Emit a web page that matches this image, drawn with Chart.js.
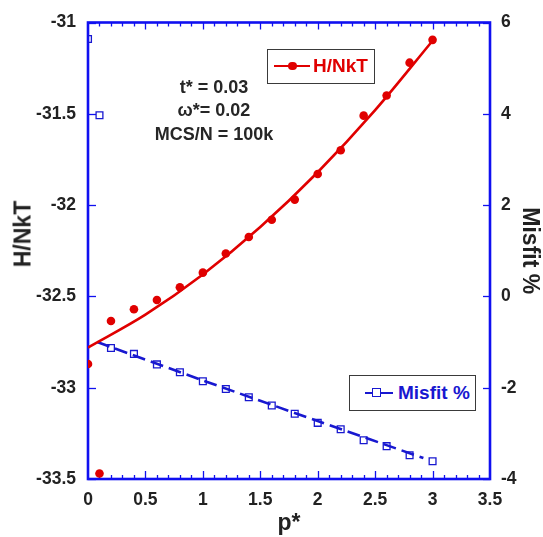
<!DOCTYPE html>
<html><head><meta charset="utf-8">
<script src="https://cdn.jsdelivr.net/npm/chart.js@4/dist/chart.umd.min.js"></script>
<style>
html,body{margin:0;padding:0;background:#fff;}
#wrap{position:relative;width:543px;height:537px;overflow:hidden;}
#c{position:absolute;left:0;top:0;}
.ann{position:absolute;font-family:"Liberation Sans",Arial,sans-serif;font-weight:bold;color:#262626;font-size:18px;white-space:nowrap;transform:translate(-50%,-50%);}
.leg{position:absolute;border:1.5px solid #3a3a3a;background:#fff;box-sizing:border-box;}
.legtxt{position:absolute;font-family:"Liberation Sans",Arial,sans-serif;font-weight:bold;font-size:19px;white-space:nowrap;transform:translateY(-50%);}
.legline{position:absolute;}
#ytitle{position:absolute;left:23px;top:234px;font-family:"Liberation Sans",Arial,sans-serif;font-weight:bold;font-size:23px;color:#222;white-space:nowrap;transform:translate(-50%,-50%) rotate(-90deg);}
</style></head>
<body>
<div id="wrap">
<canvas id="c" width="543" height="537"></canvas>
<div id="ytitle">H/NkT</div>
<div class="ann" style="left:214px;top:87px;">t* = 0.03</div>
<div class="ann" style="left:214px;top:110px;">ω*= 0.02</div>
<div class="ann" style="left:214px;top:134px;">MCS/N = 100k</div>

<div class="leg" style="left:267px;top:49px;width:108px;height:35px;"></div>
<div class="legline" style="left:274px;top:64.5px;width:36px;height:2.5px;background:#e00000;"></div>
<div class="legline" style="left:288px;top:61.5px;width:8.5px;height:8.5px;border-radius:50%;background:#e00000;"></div>
<div class="legtxt" style="left:313px;top:66px;color:#e00000;">H/NkT</div>

<div class="leg" style="left:349px;top:375px;width:127px;height:36px;"></div>
<div class="legline" style="left:365px;top:392px;width:28px;height:2px;background:#1818d0;"></div>
<div class="legline" style="left:372px;top:388px;width:7px;height:7px;border:1.5px solid #1818d0;background:#fff;box-sizing:content-box;"></div>
<div class="legtxt" style="left:398px;top:393px;color:#1818d0;">Misfit %</div>
</div>
<script>
// ---- data ----
const pStar = [0, 0.1, 0.2, 0.4, 0.6, 0.8, 1.0, 1.2, 1.4, 1.6, 1.8, 2.0, 2.2, 2.4, 2.6, 2.8, 3.0];
const hNkT = [-32.87, -33.47, -32.635, -32.57, -32.52, -32.45, -32.37, -32.265, -32.175, -32.08, -31.97, -31.83, -31.70, -31.51, -31.40, -31.22, -31.095];
const misfit = [5.64, 3.97, -1.13, -1.26, -1.49, -1.66, -1.86, -2.03, -2.21, -2.39, -2.57, -2.77, -2.91, -3.15, -3.28, -3.48, -3.61];
// fitted curves
const hFitX = [0, 0.5, 1.0, 1.5, 2.0, 2.5, 3.0];
const hFitY = [-32.78, -32.60, -32.38, -32.12, -31.82, -31.48, -31.10];
const mFitX = [0.08, 1.0, 2.0, 2.92];
const mFitY = [-1.0, -1.84, -2.73, -3.54];
// axis ticks
const xTicks = {min: 0, max: 3.5, step: 0.5, minor: 0.1};
const yLeftTicks = {min: -33.5, max: -31, step: 0.5};
const yRightTicks = {min: -4, max: 6, step: 2};

const RED = '#e00000', BLUE = '#1818d0', FRAME = '#1010f0', TXT = '#222222';
const FONT = '"Liberation Sans", Arial, sans-serif';

const pts = (xs, ys) => xs.map((x, i) => ({x: x, y: ys[i]}));
const fmt = v => String(Number(Number(v).toFixed(2)));

const frameTicks = {
  id: 'frameTicks',
  beforeDatasetsDraw(chart) {
    const ctx = chart.ctx, a = chart.chartArea;
    const sx = chart.scales.x, yl = chart.scales.yL, yr = chart.scales.yR;
    ctx.save();
    ctx.strokeStyle = FRAME;
    ctx.lineWidth = 1.3;
    const nMinor = Math.round((xTicks.max - xTicks.min) / xTicks.minor);
    const per = Math.round(xTicks.step / xTicks.minor);
    for (let i = 1; i < nMinor; i++) {
      const v = xTicks.min + i * xTicks.minor;
      const px = Math.round(sx.getPixelForValue(v)) + 0.5;
      const big = i % per === 0;
      ctx.beginPath();
      ctx.moveTo(px, a.bottom); ctx.lineTo(px, a.bottom - (big ? 8 : 4));
      ctx.moveTo(px, a.top); ctx.lineTo(px, a.top + (big ? 7 : 4));
      ctx.stroke();
    }
    yl.ticks.forEach(t => {
      const py = Math.round(yl.getPixelForValue(t.value)) + 0.5;
      ctx.beginPath(); ctx.moveTo(a.left, py); ctx.lineTo(a.left + 8, py); ctx.stroke();
    });
    yr.ticks.forEach(t => {
      const py = Math.round(yr.getPixelForValue(t.value)) + 0.5;
      ctx.beginPath(); ctx.moveTo(a.right, py); ctx.lineTo(a.right - 7, py); ctx.stroke();
    });
    ctx.lineWidth = 2.6;
    ctx.strokeRect(a.left, a.top, a.right - a.left, a.bottom - a.top);
    ctx.restore();
  }
};

const tickFont = {family: FONT, size: 17.5, weight: 'bold'};
const titleFont = {family: FONT, size: 23, weight: 'bold'};

new Chart(document.getElementById('c'), {
  type: 'scatter',
  data: {
    datasets: [
      {label: 'H fit', data: pts(hFitX, hFitY), yAxisID: 'yL', showLine: true,
       borderColor: RED, borderWidth: 2.6, pointRadius: 0, cubicInterpolationMode: 'monotone', order: 3},
      {label: 'Misfit fit', data: pts(mFitX, mFitY), yAxisID: 'yR', showLine: true,
       borderColor: BLUE, borderWidth: 2.6, borderDash: [13, 6], pointRadius: 0, tension: 0.3, order: 4},
      {label: 'H/NkT', data: pts(pStar, hNkT), yAxisID: 'yL', showLine: false,
       pointStyle: 'circle', pointRadius: 4.3, backgroundColor: RED, borderColor: RED, borderWidth: 0, order: 1},
      {label: 'Misfit %', data: pts(pStar, misfit), yAxisID: 'yR', showLine: false,
       pointStyle: 'rect', pointRadius: 4.8, backgroundColor: 'rgba(255,255,255,0)', borderColor: BLUE, borderWidth: 1.3, order: 2}
    ]
  },
  options: {
    responsive: false,
    animation: false,
    layout: {padding: {top: 18, left: 0, right: 0, bottom: 0}},
    plugins: {legend: {display: false}, tooltip: {enabled: false}},
    scales: {
      x: {
        type: 'linear', position: 'bottom', min: xTicks.min, max: xTicks.max,
        ticks: {stepSize: xTicks.step, color: TXT, font: tickFont, padding: 11, maxRotation: 0, callback: fmt},
        grid: {display: false, drawTicks: false}, border: {display: false},
        title: {display: true, text: 'p*', color: TXT, font: titleFont, padding: {top: 0, bottom: 0}},
        afterFit(s) { s.height = 58; }
      },
      yL: {
        type: 'linear', position: 'left', min: yLeftTicks.min, max: yLeftTicks.max,
        ticks: {stepSize: yLeftTicks.step, color: TXT, font: tickFont, padding: 12, callback: fmt},
        grid: {display: false, drawTicks: false}, border: {display: false},
        title: {display: false},
        afterFit(s) { s.width = 88; }
      },
      yR: {
        type: 'linear', position: 'right', min: yRightTicks.min, max: yRightTicks.max,
        ticks: {stepSize: yRightTicks.step, color: TXT, font: tickFont, padding: 11, callback: fmt},
        grid: {display: false, drawTicks: false}, border: {display: false},
        title: {display: true, text: 'Misfit %', color: TXT, font: titleFont, padding: {top: 0, bottom: 0}},
        afterFit(s) { s.width = 53; }
      }
    }
  },
  plugins: [frameTicks]
});
</script>
</body></html>
